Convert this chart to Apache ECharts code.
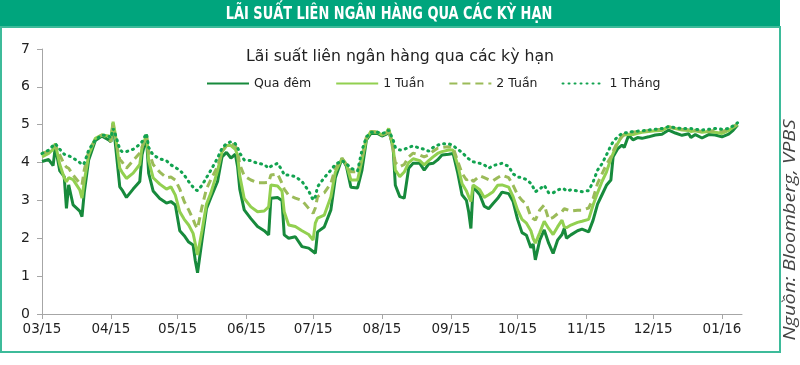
<!DOCTYPE html>
<html>
<head>
<meta charset="utf-8">
<script src="https://cdn.jsdelivr.net/npm/echarts@6/dist/echarts.min.js"></script>
<style>
html,body{margin:0;padding:0;background:#fff;}
#c{width:800px;height:365px;}
</style>
</head>
<body>
<div id="c"></div>
<script>
// Day offsets from 2015-03-01
var days = [0,3,5,6,8,10,11,12,14,17,18,19,21,24,27,30,31,32,33,35,36,38,41,44,45,47,48,50,53,56,58,60,62,64,66,68,69,70,72,74,76,79,81,83,85,87,88,89,91,94,97,100,102,103,106,108,109,111,114,117,120,122,123,124,127,130,132,135,137,139,142,144,146,148,151,153,155,156,158,159,161,163,165,167,170,172,174,176,178,180,183,185,187,189,191,192,193,194,197,199,201,203,205,207,210,212,214,216,218,220,221,222,224,226,228,230,232,234,235,236,238,241,243,246,248,250,252,254,256,257,259,261,262,264,266,268,270,273,276,279,282,285,288,291,292,294,297,300,303,306,309,311,313];

var quaDem = [4.03,4.08,3.92,4.42,3.78,3.63,2.79,3.41,2.88,2.72,2.57,3.2,4.07,4.58,4.7,4.6,4.55,5.04,4.5,3.36,3.28,3.08,3.3,3.5,4.2,4.68,3.72,3.25,3.05,2.93,2.97,2.88,2.2,2.07,1.9,1.82,1.4,1.09,1.95,2.78,3.08,3.5,4.15,4.27,4.12,4.22,3.9,3.3,2.75,2.52,2.31,2.2,2.09,3.06,3.08,3.0,2.09,2.0,2.04,1.78,1.74,1.65,1.6,2.17,2.3,2.75,3.6,4.11,3.9,3.35,3.33,3.8,4.6,4.77,4.77,4.7,4.75,4.86,4.4,3.4,3.1,3.06,3.85,3.98,3.98,3.8,3.96,3.98,4.07,4.2,4.22,4.24,3.75,3.15,3.0,2.7,2.26,3.36,3.15,2.85,2.78,2.92,3.05,3.22,3.18,2.97,2.5,2.15,2.08,1.75,1.85,1.43,1.95,2.22,1.87,1.6,1.95,2.1,2.26,2.0,2.09,2.2,2.24,2.17,2.48,2.9,3.15,3.4,3.54,4.15,4.36,4.46,4.4,4.72,4.6,4.66,4.64,4.68,4.73,4.75,4.86,4.78,4.72,4.76,4.66,4.74,4.65,4.74,4.73,4.68,4.75,4.85,4.99];

var tuan1 = [4.15,4.24,4.35,4.5,3.95,3.6,3.49,3.6,3.55,3.28,3.06,3.5,4.2,4.64,4.73,4.7,4.65,5.08,4.75,3.85,3.75,3.58,3.72,3.95,4.4,4.73,4.05,3.6,3.43,3.3,3.36,3.14,2.7,2.5,2.35,2.13,1.85,1.56,2.2,2.9,3.2,3.78,4.29,4.45,4.45,4.35,4.2,3.65,3.05,2.83,2.7,2.72,2.83,3.41,3.38,3.25,2.7,2.35,2.31,2.2,2.1,1.95,2.4,2.53,2.61,3.1,3.75,4.11,3.95,3.54,3.54,4.07,4.64,4.82,4.8,4.73,4.78,4.9,4.45,3.8,3.63,3.75,4.0,4.1,4.05,3.94,4.05,4.15,4.24,4.29,4.33,4.33,3.95,3.45,3.25,3.1,2.97,3.41,3.28,3.08,3.15,3.23,3.4,3.41,3.35,3.1,2.75,2.5,2.4,2.2,2.0,1.87,2.15,2.45,2.26,2.1,2.3,2.48,2.3,2.28,2.35,2.42,2.45,2.5,2.88,3.2,3.5,3.75,4.1,4.24,4.5,4.7,4.73,4.75,4.74,4.77,4.8,4.82,4.84,4.85,4.95,4.9,4.86,4.85,4.82,4.84,4.8,4.82,4.8,4.77,4.85,4.93,5.0];

var tuan2 = [4.24,4.3,4.42,4.46,4.2,3.95,3.88,3.85,3.67,3.45,3.41,3.8,4.3,4.62,4.73,4.65,4.55,4.99,4.65,4.08,4.02,3.85,4.05,4.25,4.4,4.73,4.3,3.95,3.75,3.6,3.62,3.54,3.3,2.97,2.75,2.5,2.35,2.26,2.83,3.3,3.55,3.9,4.29,4.45,4.5,4.45,4.3,3.95,3.65,3.54,3.47,3.47,3.48,3.67,3.7,3.45,3.3,3.14,3.06,3.0,2.79,2.66,2.8,3.1,3.2,3.45,3.85,4.11,3.94,3.76,3.76,4.15,4.68,4.82,4.8,4.73,4.78,4.9,4.33,4.0,3.89,3.95,4.15,4.25,4.2,4.15,4.2,4.3,4.38,4.4,4.42,4.4,4.05,3.72,3.54,3.58,3.6,3.5,3.65,3.6,3.55,3.52,3.6,3.67,3.6,3.4,3.15,3.0,2.9,2.57,2.52,2.48,2.75,2.88,2.5,2.55,2.65,2.7,2.78,2.76,2.72,2.74,2.74,2.8,3.05,3.45,3.7,3.95,4.15,4.3,4.55,4.68,4.75,4.78,4.8,4.82,4.82,4.85,4.87,4.88,4.94,4.9,4.88,4.87,4.86,4.85,4.82,4.83,4.85,4.82,4.87,4.95,5.02];

var thang1 = [4.24,4.33,4.45,4.5,4.35,4.22,4.2,4.18,4.12,4.0,3.94,3.98,4.33,4.6,4.73,4.7,4.65,4.9,4.75,4.35,4.29,4.29,4.35,4.48,4.55,4.77,4.4,4.2,4.1,4.05,3.94,3.87,3.8,3.67,3.5,3.35,3.28,3.26,3.4,3.6,3.8,4.12,4.38,4.5,4.55,4.5,4.4,4.25,4.07,4.05,3.98,3.95,3.85,3.9,3.98,3.8,3.67,3.67,3.63,3.5,3.25,3.01,3.1,3.36,3.6,3.8,3.95,4.05,3.97,3.85,3.78,4.33,4.68,4.8,4.8,4.77,4.8,4.86,4.6,4.4,4.33,4.35,4.4,4.44,4.38,4.35,4.3,4.4,4.46,4.5,4.5,4.45,4.35,4.27,4.15,4.1,4.05,4.02,3.98,3.94,3.85,3.92,3.95,3.98,3.9,3.7,3.62,3.6,3.55,3.45,3.35,3.23,3.3,3.4,3.2,3.2,3.27,3.32,3.3,3.25,3.28,3.25,3.23,3.26,3.49,3.8,3.97,4.2,4.45,4.55,4.68,4.77,4.78,4.8,4.82,4.83,4.84,4.86,4.88,4.9,4.95,4.92,4.9,4.9,4.9,4.88,4.86,4.88,4.9,4.88,4.9,4.97,5.05];

var tickDays = [0,31,61,92,122,153,184,214,245,275,306];
var tickLabels = ['03/15','04/15','05/15','06/15','07/15','08/15','09/15','10/15','11/15','12/15','01/16'];
var seriesNames = ['Qua đêm','1 Tuần','2 Tuần','1 Tháng'];

function pairs(vals){ return days.map(function(d,i){ return [d, vals[i]]; }); }

var chart = echarts.init(document.getElementById('c'), null, {renderer:'canvas'});
var baseFont = 'DejaVu Sans, Verdana, sans-serif';
chart.setOption({
  animation:false,
  backgroundColor:'#fff',
  title:{
    text:'Lãi suất liên ngân hàng qua các kỳ hạn',
    left:'center', top:44,
    textStyle:{fontFamily:baseFont, fontSize:15.7, fontWeight:'normal', color:'#222'}
  },
  legend:{
    top:72, left:201,
    itemWidth:42, itemHeight:10, itemGap:24,
    itemStyle:{opacity:0},
    textStyle:{fontFamily:baseFont, fontSize:12.5, color:'#222'},
    data:seriesNames
  },
  grid:{left:42, right:58, top:49, bottom:51, containLabel:false},
  xAxis:{
    type:'value', min:0, max:315,
    splitLine:{show:false},
    axisLine:{lineStyle:{color:'#a6a6a6', width:1}},
    axisTick:{show:true, length:5, lineStyle:{color:'#a6a6a6'}, customValues:tickDays},
    axisLabel:{customValues:tickDays, fontFamily:baseFont, fontSize:13.5, color:'#222', margin:8,
      formatter:function(v){ var i = tickDays.indexOf(v); return i>=0 ? tickLabels[i] : ''; }}
  },
  yAxis:{
    type:'value', min:0, max:7, interval:1,
    splitLine:{show:false},
    axisLine:{show:true, lineStyle:{color:'#a6a6a6', width:1}},
    axisTick:{show:true, length:5, lineStyle:{color:'#a6a6a6'}},
    axisLabel:{fontFamily:baseFont, fontSize:14, color:'#222', margin:12}
  },
  series:[
    {name:seriesNames[0], type:'line', data:pairs(quaDem), symbol:'none', showSymbol:false,
      lineStyle:{color:'#178a3c', width:3}, itemStyle:{color:'#178a3c'}},
    {name:seriesNames[1], type:'line', data:pairs(tuan1), symbol:'none', showSymbol:false,
      lineStyle:{color:'#92d050', width:3}, itemStyle:{color:'#92d050'}},
    {name:seriesNames[2], type:'line', data:pairs(tuan2), symbol:'none', showSymbol:false,
      lineStyle:{color:'#9bbb59', width:3, type:[8,5]}, itemStyle:{color:'#9bbb59'}},
    {name:seriesNames[3], type:'line', data:pairs(thang1), symbol:'none', showSymbol:false,
      lineStyle:{color:'#12a350', width:3, type:[1,5], cap:'round'}, itemStyle:{color:'#12a350'}}
  ],
  graphic:[
    {type:'rect', left:0, top:0, shape:{width:780, height:28}, style:{fill:'#00a57d'}, silent:true},
    {type:'text', x:389, y:14, scaleX:0.8, style:{
      text:'LÃI SUẤT LIÊN NGÂN HÀNG QUA CÁC KỲ HẠN', fill:'#fff', align:'center', verticalAlign:'middle',
      font:'bold 18px "Liberation Sans Narrow", "DejaVu Sans Condensed", sans-serif'}, silent:true},
    {type:'rect', shape:{x:1, y:27, width:779, height:325}, style:{fill:'none', stroke:'#3dbb9a', lineWidth:2}, silent:true},
    {type:'text', x:790, y:230, rotation:Math.PI/2, scaleX:1.18, style:{
      text:'Nguồn: Bloomberg, VPBS', fill:'#444', align:'center', verticalAlign:'middle',
      font:'italic 17px "Open Sans", "DejaVu Sans", sans-serif'}, silent:true}
  ]
});
</script>
</body>
</html>
